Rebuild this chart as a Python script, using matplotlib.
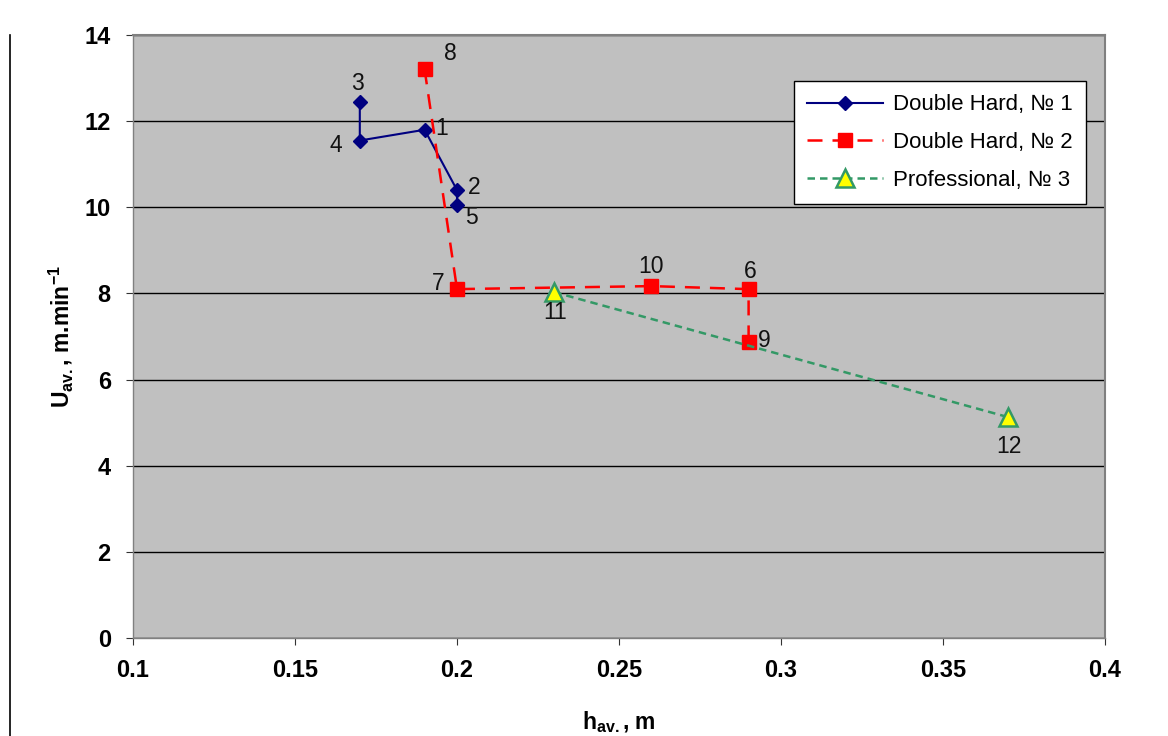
import matplotlib
matplotlib.use("Agg")
import matplotlib.pyplot as plt
from matplotlib.lines import Line2D

plt.rcParams['font.family'] = ['Liberation Sans', 'DejaVu Sans']

# Data
s1_x = [0.17, 0.17, 0.19, 0.20, 0.20]
s1_y = [12.45, 11.55, 11.80, 10.40, 10.05]
s1_lbl = ['3', '4', '1', '2', '5']
s2_x = [0.19, 0.20, 0.26, 0.29, 0.29]
s2_y = [13.20, 8.10, 8.17, 8.10, 6.87]
s2_lbl = ['8', '7', '10', '6', '9']
s3_x = [0.23, 0.37]
s3_y = [8.03, 5.13]
s3_lbl = ['11', '12']
series_names = ['Double Hard, № 1', 'Double Hard, № 2', 'Professional, № 3']
x_ticks = [0.1, 0.15, 0.2, 0.25, 0.3, 0.35, 0.4]
x_ticklabels = ['0.1', '0.15', '0.2', '0.25', '0.3', '0.35', '0.4']
y_ticks = [0, 2, 4, 6, 8, 10, 12, 14]

fig = plt.figure(figsize=(11.68, 7.36), dpi=100)
ax = fig.add_axes([133/1168, 1-638/736, (1105-133)/1168, (638-35)/736])
ax.set_facecolor('#C0C0C0')

ax.plot(s1_x, s1_y, color='#000080', lw=1.5, marker='D', ms=7, mfc='#000080', mec='#000080',
        label=series_names[0], zorder=3)
ax.plot(s2_x, s2_y, color='#FF0000', lw=1.8, ls=(0, (6, 4)), marker='s', ms=10,
        mfc='#FF0000', mec='#FF0000', label=series_names[1], zorder=3)
ax.plot(s3_x, s3_y, color='#339966', lw=1.8, ls=(0, (3, 2)), marker='^', ms=13,
        mfc='#FFFF00', mec='#339966', mew=1.8, label=series_names[2], zorder=4)

offsets = {'1': (17, 1), '2': (17, 3), '3': (-2, 18), '4': (-24, -5), '5': (14, -12),
           '6': (2, 18), '7': (-19, 6), '8': (26, 16), '9': (16, 2), '10': (0, 20),
           '11': (1, -20), '12': (1, -29)}
for xs, ys, ls in [(s1_x, s1_y, s1_lbl), (s2_x, s2_y, s2_lbl), (s3_x, s3_y, s3_lbl)]:
    for x, y, l in zip(xs, ys, ls):
        ax.annotate(l, (x, y), xytext=offsets[l], textcoords='offset pixels',
                    ha='center', va='center', fontsize=16.5, color='#111111', zorder=5)

ax.set_xlim(0.1, 0.4)
ax.set_ylim(0, 14)
ax.set_xticks(x_ticks)
ax.set_xticklabels(x_ticklabels)
ax.set_yticks(y_ticks)
ax.yaxis.grid(True, color='black', lw=1)
ax.set_axisbelow(True)
for lab in ax.get_xticklabels() + ax.get_yticklabels():
    lab.set_fontweight('bold')
    lab.set_fontsize(17)
ax.tick_params(axis='x', direction='out', length=5, color='#333333', pad=10)
ax.tick_params(axis='y', direction='out', length=5, color='#333333', pad=11)
for s in ['top', 'right']:
    ax.spines[s].set_color('#808080')
    ax.spines[s].set_linewidth(1.5)
for s in ['left', 'bottom']:
    ax.spines[s].set_color('#808080')
    ax.spines[s].set_linewidth(1.0)

ax.set_xlabel(r'h$_{\mathregular{av.}}$, m', fontsize=16.5, fontweight='bold', labelpad=20)
ax.set_ylabel(r'U$_{\mathregular{av.}}$, m.min$^{\mathregular{-1}}$', fontsize=16.5,
              fontweight='bold', labelpad=7)

leg = ax.legend(loc='upper right', bbox_to_anchor=(1086/1168, 1-81/736),
                bbox_transform=fig.transFigure, fontsize=16, fancybox=False,
                framealpha=1, edgecolor='black', handlelength=3.4, borderpad=0.6,
                labelspacing=0.75, handletextpad=0.45, borderaxespad=0)
leg.get_frame().set_linewidth(1.0)

fig.add_artist(Line2D([10/1168, 10/1168], [0, 1-35/736], transform=fig.transFigure,
                      color='black', lw=1.2))

fig.savefig('out.png', dpi=100)
